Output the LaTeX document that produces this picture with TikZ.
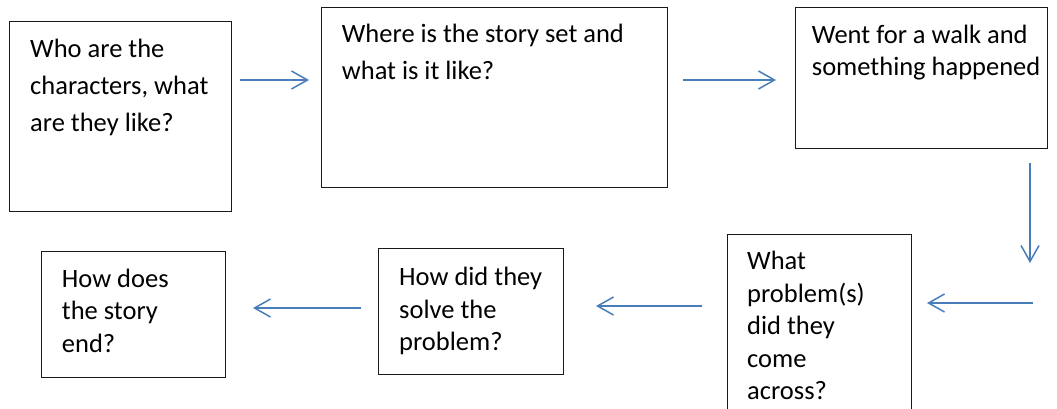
\documentclass[tikz,border=0pt]{standalone}
\usepackage{fontspec}
\setmainfont{Carlito}
\usepackage{xcolor}
\usetikzlibrary{arrows.meta}

\definecolor{arrowblue}{RGB}{74,126,187}
\tikzset{
	box/.style={draw=black!90, line width=1.3pt, anchor=north west, inner sep=0pt},
	words/.style={anchor=north west, inner sep=0pt, align=left},
	loose/.style={font=\fontsize{26.5}{37}\selectfont},
	tight/.style={font=\fontsize{26.5}{32.5}\selectfont},
	flow/.style={draw=arrowblue, line width=1.5pt, -{Straight Barb[length=16pt, width=18pt]}}
}

\begin{document}
\begin{tikzpicture}[x=1pt, y=-1pt]
	\clip (0,0) rectangle (1057,408);

	\node[box, minimum width=222pt, minimum height=190pt] (chars) at (9,21) {};
	\node[box, minimum width=346pt, minimum height=180pt] (setting) at (321,7) {};
	\node[box, minimum width=252pt, minimum height=141pt] (event) at (795,7) {};
	\node[box, minimum width=184pt, minimum height=190pt] (problem) at (727,234) {};
	\node[box, minimum width=185pt, minimum height=126pt] (solution) at (378,248) {};
	\node[box, minimum width=184pt, minimum height=126pt] (ending) at (41,251) {};

	\node[words, loose] (chars text) at (30,38.5) {Who are the\\characters, what\\are they like?};
	\node[words, loose] (setting text) at (341.7,23.7) {Where is the story set and\\what is it like?};
	\node[words, tight] (event text) at (811.7,24.7) {Went for a walk and\\something happened};
	\node[words, tight] (problem text) at (747,251) {What\\problem(s)\\did they\\come\\across?};
	\node[words, tight] (solution text) at (399,267) {How did they\\solve the\\problem?};
	\node[words, tight] (ending text) at (61.7,268.7) {How does\\the story\\end?};

	\coordinate (cs1) at (240,80);
	\coordinate (cs2) at (309,80);
	\coordinate (se1) at (683,80);
	\coordinate (se2) at (776,80);
	\coordinate (ep1) at (1030,163);
	\coordinate (ep2) at (1030,263);
	\coordinate (pi1) at (1033,303);
	\coordinate (pi2) at (927,303);
	\coordinate (ps1) at (702,306);
	\coordinate (ps2) at (596,306);
	\coordinate (se3) at (361,308);
	\coordinate (se4) at (253,308);

	\draw[flow] (cs1) -- (cs2);
	\draw[flow] (se1) -- (se2);
	\draw[flow] (ep1) -- (ep2);
	\draw[flow] (pi1) -- (pi2);
	\draw[flow] (ps1) -- (ps2);
	\draw[flow] (se3) -- (se4);
\end{tikzpicture}
\end{document}
